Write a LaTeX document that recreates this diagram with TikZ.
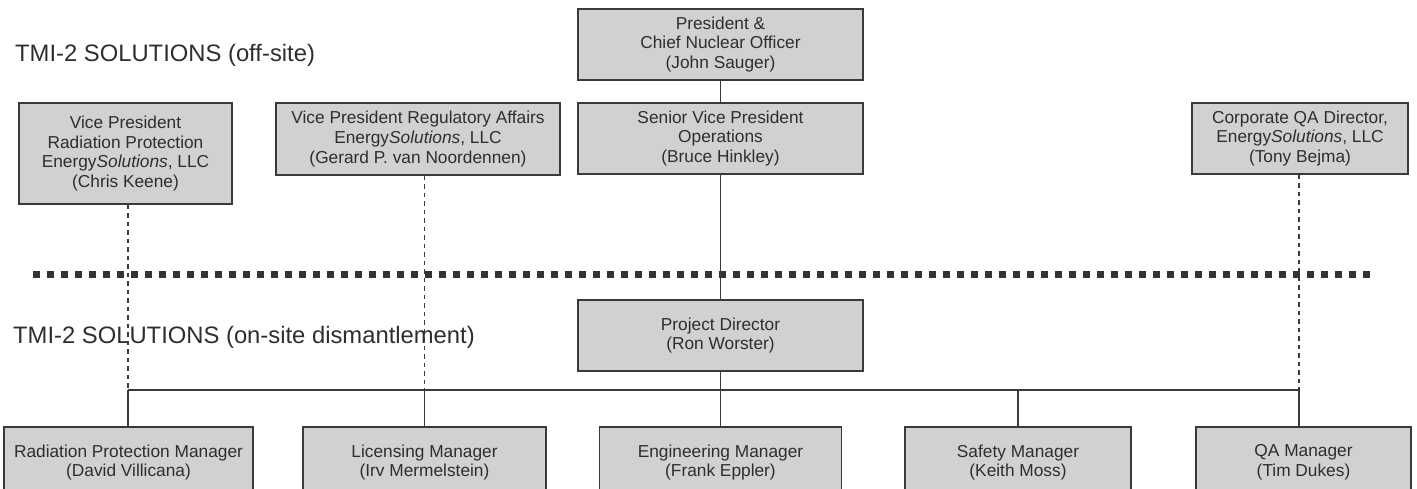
\documentclass[tikz,border=0pt]{standalone}
\usepackage{fontspec}
\setmainfont{Liberation Sans}
\definecolor{ink}{HTML}{2E2E2E}
\definecolor{boxfill}{HTML}{D1D1D1}
\definecolor{boxline}{HTML}{3A3A3A}
\definecolor{sepcol}{HTML}{333333}
\begin{document}
\begin{tikzpicture}[x=1pt,y=-1pt,
  box/.style={draw=boxline, fill=boxfill, line width=1.5pt, align=center, inner sep=0pt,
    text=ink, font=\fontsize{17.3}{19.7}\selectfont},
  title/.style={anchor=base west, inner sep=0pt, text=ink, font=\fontsize{23.8}{28}\selectfont},
  link/.style={draw=boxline, line width=1.4pt},
  dotlink/.style={draw=boxline, line width=1.1pt, dash pattern=on 4.5pt off 4pt},
  sepline/.style={draw=sepcol, line width=7pt, dash pattern=on 7pt off 7pt}]
\useasboundingbox (0,0) rectangle (1417,489);
\clip (0,0) rectangle (1417,489);

% titles
\node[title] (t1) at (15,62) {TMI-2 SOLUTIONS (off-site)};
\node[title] (t2) at (13,343) {TMI-2 SOLUTIONS (on-site dismantlement)};

% separator
\coordinate (sepL) at (33,275);
\coordinate (sepR) at (1374,275);
\draw[sepline] (sepL) -- (sepR);

% boxes
\node[box, minimum width=285, minimum height=71] (pres) at (720.5,44.5)
  {President \&\\Chief Nuclear Officer\\(John Sauger)};
\node[box, minimum width=285, minimum height=71] (svp) at (720.5,138.5)
  {Senior Vice President\\Operations\\(Bruce Hinkley)};
\node[box, minimum width=213, minimum height=101] (vprp) at (125.5,153.5)
  {Vice President\\Radiation Protection\\Energy\textit{Solutions}, LLC\\(Chris Keene)};
\node[box, minimum width=284, minimum height=72] (vpreg) at (418,139)
  {Vice President Regulatory Affairs\\Energy\textit{Solutions}, LLC\\(Gerard P. van Noordennen)};
\node[box, minimum width=216, minimum height=71] (cqa) at (1300,138.5)
  {Corporate QA Director,\\Energy\textit{Solutions}, LLC\\(Tony Bejma)};
\node[box, minimum width=285, minimum height=71] (pd) at (720.5,335.5)
  {Project Director\\(Ron Worster)};
\node[box, minimum width=249, minimum height=71] (rpm) at (128.5,462.5)
  {Radiation Protection Manager\\(David Villicana)};
\node[box, minimum width=243, minimum height=71] (lic) at (424.5,462.5)
  {Licensing Manager\\(Irv Mermelstein)};
\node[box, minimum width=242, minimum height=71] (eng) at (720.5,462.5)
  {Engineering Manager\\(Frank Eppler)};
\node[box, minimum width=226, minimum height=71] (saf) at (1018,462.5)
  {Safety Manager\\(Keith Moss)};
\node[box, minimum width=215, minimum height=71] (qam) at (1303.5,462.5)
  {QA Manager\\(Tim Dukes)};

% bus
\coordinate (bL) at (128,390);
\coordinate (bR) at (1299,390);

% dashed advisory links
\draw[dotlink] (vprp.south -| bL) -- (bL);
\draw[dotlink] (vpreg.south -| lic.north) -- (lic.north |- bL);
\draw[dotlink] (cqa.south -| bR) -- (bR);

% solid links
\draw[link] (pres.south) -- (svp.north);
\draw[link] (svp.south) -- (pd.north);
\draw[link] (pd.south) -- (eng.north);
\draw[link] (bL) -- (bR);
\draw[link] (bL) -- (bL |- rpm.north);
\draw[link] (lic.north |- bL) -- (lic.north);
\draw[link] (saf.north |- bL) -- (saf.north);
\draw[link] (bR) -- (bR |- qam.north);
\end{tikzpicture}
\end{document}
